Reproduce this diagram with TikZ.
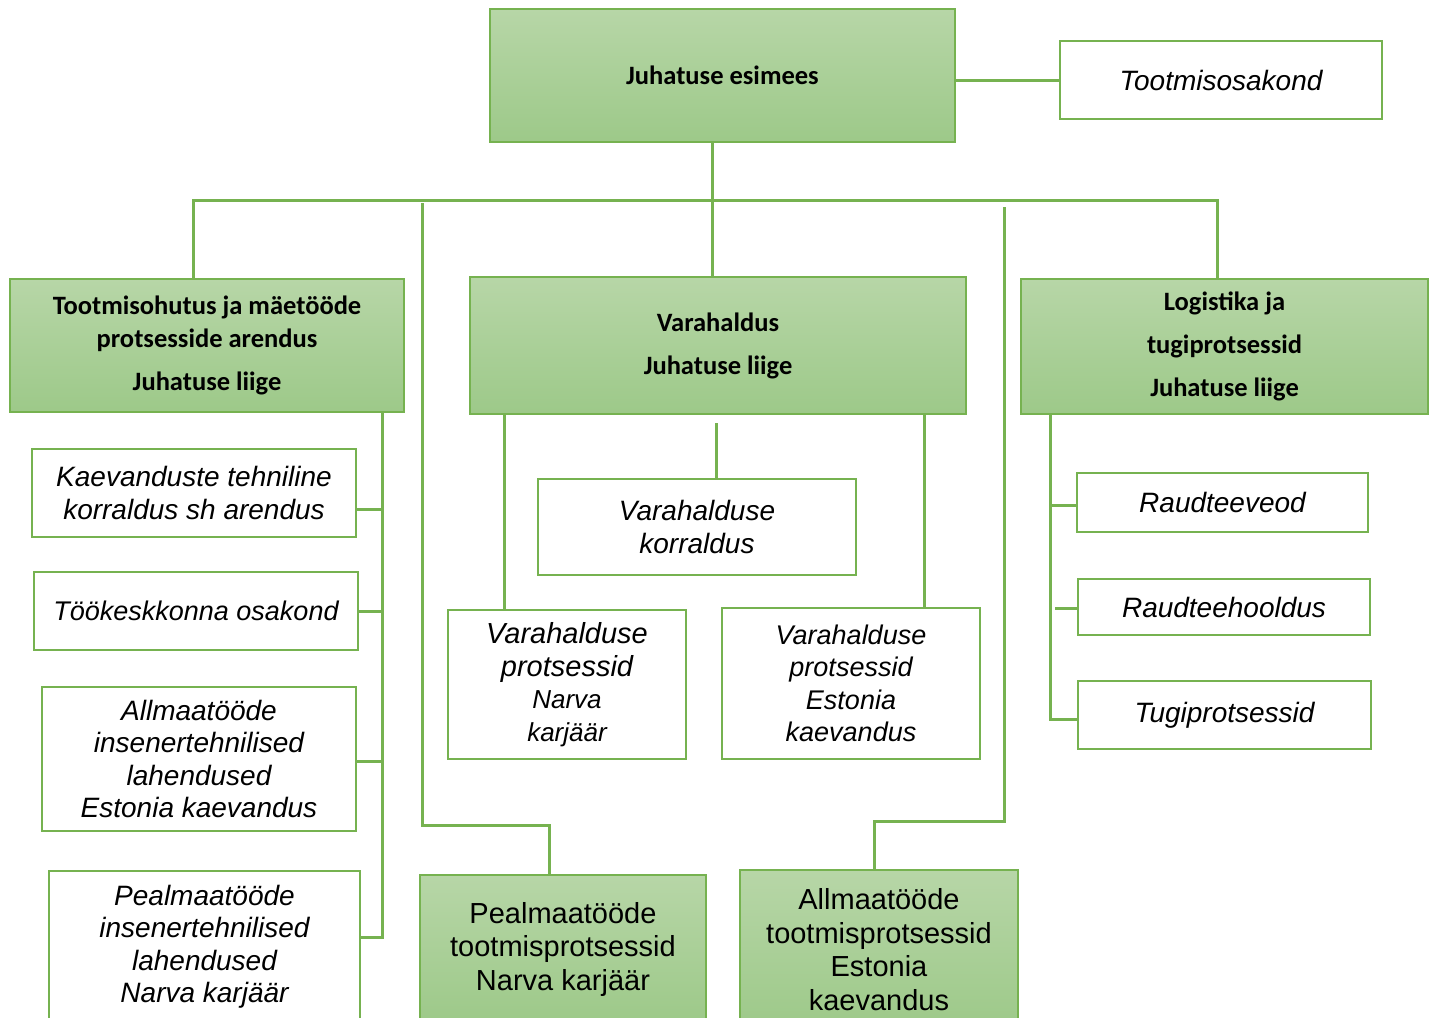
\documentclass[tikz,border=0pt]{standalone}
\usepackage{fontspec}
\newfontfamily\calibf{Carlito}
\newfontfamily\arialf{Liberation Sans}
\definecolor{gtop}{RGB}{183,214,167}
\definecolor{gbot}{RGB}{157,201,137}
\definecolor{gborder}{RGB}{118,178,80}
\begin{document}
\begin{tikzpicture}[x=1pt,y=-1pt,
  gbox/.style={draw=gborder, line width=2.5pt, top color=gtop, bottom color=gbot, inner sep=0pt, align=center, anchor=center},
  wbox/.style={draw=gborder, line width=2.5pt, fill=white, inner sep=0pt, align=center, anchor=center},
  boldtxt/.style={font={\calibf\bfseries\fontsize{26.5}{33}\selectfont}},
  ittxt/.style={font={\arialf\itshape\fontsize{28}{32.5}\selectfont}},
  rmtxt/.style={font={\arialf\fontsize{29}{33.5}\selectfont}},
  conn/.style={draw=gborder, line width=3pt}]
\useasboundingbox (0,0) rectangle (1434,1017);
\clip (0,0) rectangle (1434,1017);
\fill[white] (0,0) rectangle (1434,1017);

% top level
\node[gbox, boldtxt, minimum width=465pt, minimum height=133pt] (top) at (722.5,75.5) {Juhatuse esimees};
\node[wbox, ittxt, minimum width=322pt, minimum height=78pt] (tosak) at (1221,80) {Tootmisosakond};

% board members
\node[gbox, boldtxt, minimum width=394pt, minimum height=133pt] (tooh) at (207,345.5)
  {Tootmisohutus ja mäetööde\\ protsesside arendus\\[10pt] Juhatuse liige};
\node[gbox, boldtxt, minimum width=496pt, minimum height=137pt] (varah) at (718,345.5)
  {Varahaldus\\[10pt] Juhatuse liige};
\node[gbox, boldtxt, minimum width=407pt, minimum height=135pt] (logi) at (1224.5,346.5)
  {Logistika ja\\[10pt] tugiprotsessid\\[10pt] Juhatuse liige};

% left column
\node[wbox, ittxt, minimum width=324pt, minimum height=88pt] (kaev) at (194,493)
  {Kaevanduste tehniline\\ korraldus sh arendus};
\node[wbox, ittxt, minimum width=324pt, minimum height=78pt] (tkk) at (196,611)
  {\fontsize{27}{32}\selectfont Töökeskkonna osakond};
\node[wbox, ittxt, minimum width=314pt, minimum height=144pt] (ains) at (199,759)
  {Allmaatööde\\ insenertehnilised\\ lahendused\\ Estonia kaevandus};
\node[wbox, ittxt, minimum width=311pt, minimum height=151pt] (pins) at (204.5,946.5)
  {Pealmaatööde\\ insenertehnilised\\ lahendused\\ Narva karjäär};

% middle column
\node[wbox, ittxt, minimum width=318pt, minimum height=96pt] (vkor) at (697,527)
  {Varahalduse\\ korraldus};
\node[wbox, ittxt, minimum width=238pt, minimum height=149pt] (vnar) at (567,684.5)
  {\fontsize{29}{34}\selectfont Varahalduse\\ \fontsize{29}{34}\selectfont protsessid\\ \fontsize{26}{32}\selectfont Narva\\ \fontsize{26}{32}\selectfont karjäär};
\node[wbox, ittxt, minimum width=258pt, minimum height=151pt] (vest) at (851,683.5)
  {\fontsize{27}{32}\selectfont Varahalduse\\ \fontsize{27}{32}\selectfont protsessid\\ \fontsize{27}{32}\selectfont Estonia\\ \fontsize{27}{32}\selectfont kaevandus};

% right column
\node[wbox, ittxt, minimum width=291pt, minimum height=59pt] (rv) at (1222.5,502.5) {Raudteeveod};
\node[wbox, ittxt, minimum width=292pt, minimum height=56pt] (rh) at (1224,607) {Raudteehooldus};
\node[wbox, ittxt, minimum width=293pt, minimum height=68pt] (tugi) at (1224.5,715) {Tugiprotsessid};

% production boxes
\node[gbox, rmtxt, minimum width=286pt, minimum height=148pt] (pprod) at (563,949)
  {Pealmaatööde\\ tootmisprotsessid\\ Narva karjäär};
\node[gbox, rmtxt, minimum width=278pt, minimum height=159pt] (aprod) at (879,949.5)
  {Allmaatööde\\ tootmisprotsessid\\ Estonia\\ kaevandus};

% connector coordinates
\coordinate (bus) at (712,200);
\coordinate (bL) at (193,200);
\coordinate (bR) at (1217,200);
\coordinate (p1) at (422,203);
\coordinate (p2) at (422,825);
\coordinate (p3) at (549,825);
\coordinate (q1) at (1004,207);
\coordinate (q2) at (1004,821);
\coordinate (q3) at (874,821);
\coordinate (sx) at (382,937);
\coordinate (k1) at (382,509);
\coordinate (k2) at (382,611);
\coordinate (k3) at (382,761);
\coordinate (v0) at (716,423);
\coordinate (v1) at (504,415);
\coordinate (v2) at (924,415);
\coordinate (l0) at (1050,719);
\coordinate (l1) at (1050,505);
\coordinate (l2) at (1055,608);

% connectors
\draw[conn] (top.east |- tosak.west) -- (tosak.west);
\draw[conn] (top.south -| bus) -- (varah.north -| bus);
\draw[conn] (tooh.north -| bL) -- (bL) -- (bR) -- (logi.north -| bR);
\draw[conn] (p1) -- (p2) -- (p3) -- (pprod.north -| p3);
\draw[conn] (q1) -- (q2) -- (q3) -- (aprod.north -| q3);
\draw[conn] (tooh.south -| sx) -- (sx) -- (pins.east |- sx);
\draw[conn] (k1) -- (kaev.east |- k1);
\draw[conn] (k2) -- (tkk.east |- k2);
\draw[conn] (k3) -- (ains.east |- k3);
\draw[conn] (v0) -- (vkor.north -| v0);
\draw[conn] (varah.south -| v1) -- (vnar.north -| v1);
\draw[conn] (varah.south -| v2) -- (vest.north -| v2);
\draw[conn] (logi.south -| l0) -- (l0) -- (tugi.west |- l0);
\draw[conn] (l1) -- (rv.west |- l1);
\draw[conn] (l2) -- (rh.west |- l2);
\end{tikzpicture}
\end{document}
